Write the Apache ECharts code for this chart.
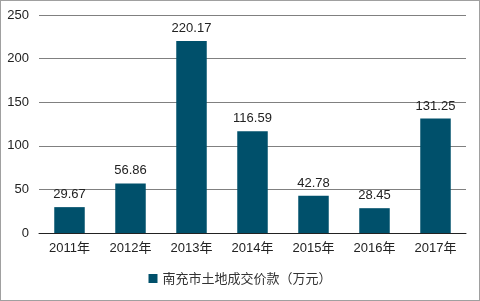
<!DOCTYPE html>
<html><head><meta charset="utf-8">
<script src="https://cdn.jsdelivr.net/npm/echarts@6/dist/echarts.min.js"></script>
<style>html,body{margin:0;padding:0;background:#fff}#c{width:478px;height:299px;border:1px solid #a0a0a0}</style>
</head><body><div id="c"></div>
<script>
const categories = ['2011年','2012年','2013年','2014年','2015年','2016年','2017年'];
const values = [29.67, 56.86, 220.17, 116.59, 42.78, 28.45, 131.25];
const seriesName = '南充市土地成交价款（万元）';
const chart = echarts.init(document.getElementById('c'));
chart.setOption({
  animation:false,
  textStyle:{fontFamily:'Liberation Sans, Noto Sans CJK SC, sans-serif'},
  grid:{left:38,right:13,top:14,bottom:67},
  legend:{bottom:10,left:'center',itemWidth:9,itemHeight:9,icon:'rect',
    textStyle:{fontSize:13,color:'#333',fontFamily:'Noto Sans CJK SC'},data:[seriesName]},
  xAxis:{type:'category',data:categories,
    axisLine:{lineStyle:{color:'#222',width:1}},axisTick:{show:false},
    axisLabel:{fontSize:13,color:'#222',margin:9}},
  yAxis:{type:'value',min:0,max:250,interval:50,
    axisLine:{show:false},axisTick:{show:false},
    axisLabel:{fontSize:13,color:'#222',margin:10},
    splitLine:{lineStyle:{color:'#808080',width:1}}},
  series:[{name:seriesName,type:'bar',data:values,barWidth:'50%',
    itemStyle:{color:'#00506b'},
    label:{show:true,position:'top',distance:6,fontSize:13,color:'#222'}}]
});
</script></body></html>
